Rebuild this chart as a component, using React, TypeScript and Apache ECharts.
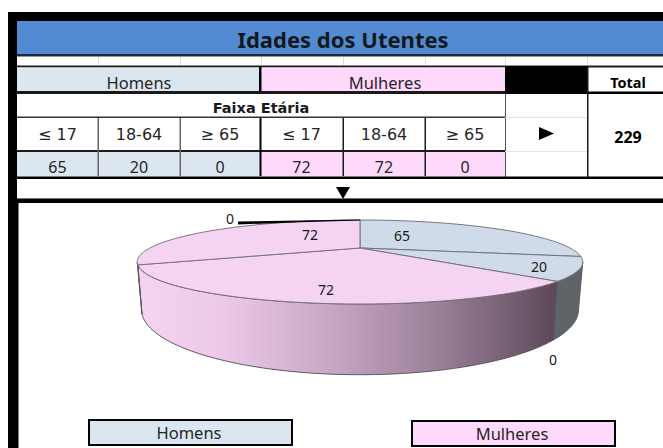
import React, { useEffect, useRef } from "react";
import * as echarts from "echarts";

const title = "Idades dos Utentes";
const groupLabels = ["Homens", "Mulheres"];
const ageHeader = "Faixa Etária";
const ageLabels = ["≤ 17", "18-64", "≥ 65", "≤ 17", "18-64", "≥ 65"];
const sliceValues = [65, 20, 0, 72, 72, 0];
const totalLabel = "Total";
const totalValue = 229;

const BLUE = "#dce6f1";
const PINK = "#ffd9fc";
const PIE_BLUE = "#cfdbe8";
const PIE_PINK = "#f4d3f3";
const FONT = '"Noto Sans", sans-serif';
const WIDE = '"DejaVu Sans", sans-serif';

// Where each slice's value label sits (reference places them by hand)
const labelSpots = [
  [402, 235],
  [539, 266],
  [553, 359],
  [326, 289],
  [310, 234],
  [230, 218],
];

// Perspective projection of the disc: top face and bottom rim
const project = (theta: number, r: number, B: number, A: number, y0: number) => {
  const u = r * Math.sin(theta);
  const v = -r * Math.cos(theta);
  const d = 1 - v / 3;
  return [360 + (B * u) / d, y0 + (A * v) / d];
};
const top = (t: number, r = 1) => project(t, r, 210, 37.33, 248);
const bottom = (t: number) => project(t, 1, 206, 57.8, 288);
const WALL_FROM = (109.5 * Math.PI) / 180;
const WALL_TO = (250.5 * Math.PI) / 180;

const arc = (a: number, b: number, fn: (t: number) => number[]) => {
  const n = Math.max(2, Math.ceil(Math.abs(b - a) / 0.02));
  const out: number[][] = [];
  for (let i = 0; i <= n; i++) out.push(fn(a + ((b - a) * i) / n));
  return out;
};

export default function App() {
  const ref = useRef<HTMLDivElement>(null);
  useEffect(() => {
    const chart = echarts.init(ref.current!, undefined, { renderer: "svg" });
    const sum = sliceValues.reduce((a, b) => a + b, 0);
    const rect = (x: number, y: number, w: number, h: number, fill: string, extra: any = {}) => ({
      type: "rect",
      shape: { x, y, width: w, height: h },
      style: { fill, ...extra },
      silent: true,
    });
    const text = (s: string, x: number, y: number, font: string, fill = "#262626", extra: any = {}) => ({
      type: "text",
      x,
      y,
      style: { text: s, font, fill, textAlign: "center", textVerticalAlign: "middle", ...extra },
      silent: true,
    });

    const colX = [17, 98, 180, 260, 343, 425, 505];
    const headFont = `16.5px ${FONT}`;
    const ageFont = `16px ${WIDE}`;
    const valueFont = `16px ${FONT}`;
    const elements: any[] = [
      rect(0, 0, 663, 448, "#ffffff"),
      // outer frame
      rect(8, 12, 655, 9, "#000000"),
      rect(8, 12, 9, 436, "#000000"),
      // title
      rect(17, 21, 646, 33, "#538bd2"),
      rect(17, 54, 646, 2.5, "#1f2a3a"),
      text(title, 343, 39, `bold 22px ${FONT}`, "#111820"),
      // light grid lines under title
      ...[98, 180, 261, 343, 425, 505, 587].map((x) => rect(x, 57, 1, 8, "#d8dde8")),
      rect(17, 65.5, 646, 2, "#1a1a1a"),
      // group headers
      rect(17, 67.5, 242, 23.5, BLUE),
      rect(261.5, 67.5, 243.5, 23.5, PINK),
      rect(259, 67, 2.5, 25, "#000000"),
      text(groupLabels[0], 139, 82, headFont),
      text(groupLabels[1], 385, 82, headFont),
      rect(17, 91, 488, 3, "#1a1a1a"),
      // black block + total
      rect(505, 66, 82, 28, "#000000"),
      rect(505, 91.5, 158, 2.5, "#000000"),
      text(totalLabel, 628, 82, `bold 14.5px ${FONT}`, "#000000"),
      text(String(totalValue), 628, 137, `bold 16px ${FONT}`, "#000000"),
      rect(587, 67, 1.5, 111, "#1a1a1a"),
      rect(505, 94, 1, 84, "#555555"),
      rect(505, 117, 82, 1, "#e2e2ec"),
      rect(505, 151, 82, 1, "#e2e2ec"),
      // age band
      text(ageHeader, 261, 107.5, `bold 14.5px ${WIDE}`, "#1a1a1a"),
      rect(17, 116.5, 488, 1.5, "#333333"),
      // values row fills
      rect(17, 152, 243, 24.5, BLUE),
      rect(261, 152, 244, 24.5, PINK),
      rect(17, 150, 488, 2, "#1a1a1a"),
      // column separators
      rect(97.5, 118, 1.5, 58, "#666666"),
      rect(179.5, 118, 1.5, 58, "#666666"),
      rect(259.5, 118, 2, 58, "#000000"),
      rect(342.5, 118, 1.5, 58, "#1a1a1a"),
      rect(424.5, 118, 1.5, 58, "#1a1a1a"),
      ...ageLabels.map((s, i) =>
        text(s, (colX[i] + colX[i + 1]) / 2, 134, ageFont),
      ),
      ...sliceValues.map((v, i) =>
        text(String(v), (colX[i] + colX[i + 1]) / 2, 166.5, valueFont),
      ),
      rect(17, 176.5, 646, 2.5, "#000000"),
      // arrows
      { type: "polygon", shape: { points: [[539, 127], [554, 133.5], [539, 140]] }, style: { fill: "#000000" }, silent: true },
      rect(17, 198, 646, 1, "#777777"),
      rect(17, 199, 646, 4, "#000000"),
      { type: "polygon", shape: { points: [[336, 187], [350, 187], [343, 199]] }, style: { fill: "#000000" }, silent: true },
      rect(17, 203, 1.5, 245, "#000000"),
      // legend
      rect(89, 420, 203, 25, BLUE, { stroke: "#000000", lineWidth: 2 }),
      text(groupLabels[0], 189, 432, headFont),
      rect(412, 421, 203, 25, PINK, { stroke: "#000000", lineWidth: 2 }),
      text(groupLabels[1], 512, 433, headFont),
      // leader for the zero slice at the top
      { type: "polygon", shape: { points: [[238, 221.5], [300, 220.5], [360, 219.5], [360, 220.5], [300, 222.3], [238, 224.5]] }, style: { fill: "#000000" }, silent: true, z: 5 },
    ];

    const gradient = new echarts.graphic.LinearGradient(0, 0, 1, 0, [
      { offset: 0, color: "#f4d3f3" },
      { offset: 0.2, color: "#ecc9e8" },
      { offset: 0.45, color: "#c9a8c6" },
      { offset: 0.72, color: "#9a7f97" },
      { offset: 1, color: "#5c4859" },
    ]);
    const tops = [PIE_BLUE, PIE_BLUE, PIE_BLUE, PIE_PINK, PIE_PINK, PIE_PINK];
    const walls: any[] = [PIE_BLUE, "#5f6468", "#5f6468", gradient, PIE_PINK, PIE_PINK];

    const renderItem = (params: any, api: any) => {
      const i = params.dataIndex;
      const value = api.value(0);
      const before = sliceValues.slice(0, i).reduce((a, b) => a + b, 0);
      const a = (before / sum) * Math.PI * 2;
      const b = ((before + value) / sum) * Math.PI * 2;
      const children: any[] = [];
      const wa = Math.max(a, WALL_FROM);
      const wb = Math.min(b, WALL_TO);
      if (value > 0 && wb > wa) {
        children.push({
          type: "polygon",
          shape: { points: [...arc(wa, wb, top), ...arc(wb, wa, bottom)] },
          style: { fill: walls[i], stroke: "#5a5a60", lineWidth: 1 },
        });
      }
      if (value > 0) {
        children.push({
          type: "polygon",
          shape: { points: [top(0, 0), ...arc(a, b, top)] },
          style: { fill: tops[i], stroke: "#77747c", lineWidth: 1 },
        });
      }
      children.push({
        type: "text",
        x: labelSpots[i][0],
        y: labelSpots[i][1],
        style: {
          text: String(value),
          font: `14px ${FONT}`,
          fill: "#1a1a1a",
          textAlign: "center",
          textVerticalAlign: "middle",
        },
      });
      return { type: "group", children };
    };

    chart.setOption({
      animation: false,
      backgroundColor: "#ffffff",
      graphic: { elements },
      series: [
        {
          type: "custom",
          coordinateSystem: "none",
          silent: true,
          clip: false,
          data: sliceValues,
          renderItem,
        },
      ],
    });
    return () => chart.dispose();
  }, []);
  return (
    <div
      ref={ref}
      style={{ position: "absolute", left: 0, top: 0, width: 663, height: 448 }}
    />
  );
}
